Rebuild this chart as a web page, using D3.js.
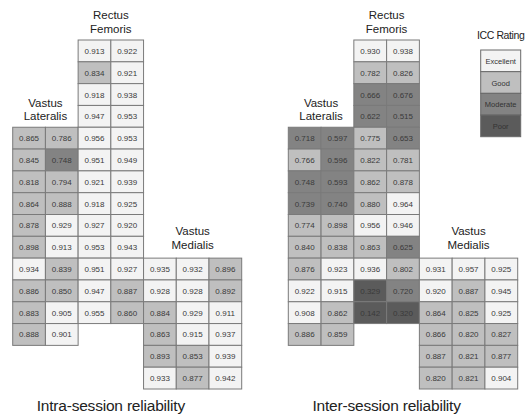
<!DOCTYPE html>
<html><head><meta charset="utf-8">
<script src="https://cdn.jsdelivr.net/npm/d3@7"></script>
<style>body{margin:0;background:#fff}svg{display:block}</style>
</head><body>
<svg id="c" width="529" height="414"></svg>
<script>
// ICC values, rows top to bottom
const intraRF = [[0.913,0.922],[0.834,0.921],[0.918,0.938],[0.947,0.953],[0.956,0.953],[0.951,0.949],[0.921,0.939],[0.918,0.925],[0.927,0.920],[0.953,0.943],[0.951,0.927],[0.947,0.887],[0.955,0.860]];
const intraVL = [[0.865,0.786],[0.845,0.748],[0.818,0.794],[0.864,0.888],[0.878,0.929],[0.898,0.913],[0.934,0.839],[0.886,0.850],[0.883,0.905],[0.888,0.901]];
const intraVM = [[0.935,0.932,0.896],[0.928,0.928,0.892],[0.884,0.929,0.911],[0.863,0.915,0.937],[0.893,0.853,0.939],[0.933,0.877,0.942]];
const interRF = [[0.930,0.938],[0.782,0.826],[0.666,0.676],[0.622,0.515],[0.775,0.653],[0.822,0.781],[0.862,0.878],[0.880,0.964],[0.956,0.946],[0.863,0.625],[0.936,0.802],[0.329,0.720],[0.142,0.320]];
const interVL = [[0.718,0.597],[0.766,0.596],[0.748,0.593],[0.739,0.740],[0.774,0.898],[0.840,0.838],[0.876,0.923],[0.922,0.915],[0.908,0.862],[0.886,0.859]];
const interVM = [[0.931,0.957,0.925],[0.920,0.887,0.945],[0.864,0.825,0.925],[0.866,0.820,0.827],[0.887,0.821,0.877],[0.820,0.821,0.904]];
const ratings = ["Excellent","Good","Moderate","Poor"];
const ratingThresholds = [0.5,0.75,0.9];
const ratingColors = ["#f3f3f3","#bfbfbf","#838383","#5b5b5b"];
const titles = ["Intra-session reliability","Inter-session reliability"];

const svg = d3.select("#c");
const color = d3.scaleThreshold().domain(ratingThresholds).range(ratingColors.slice().reverse());
const y = d3.scaleBand().domain(d3.range(16)).range([40,389]).padding(0);
const FONT = "Liberation Sans, Arial, sans-serif";

const panels = [
  {x0:12.7, x1:241.7, RF:intraRF, VL:intraVL, VM:intraVM, title:titles[0]},
  {x0:288.3, x1:517.7, RF:interRF, VL:interVL, VM:interVM, title:titles[1]}
];

panels.forEach(p => {
  const x = d3.scaleBand().domain(d3.range(7)).range([p.x0,p.x1]).padding(0);
  const g = svg.append("g");
  const cells = [];
  const add = (arr, col0, row0) => arr.forEach((r,i)=>r.forEach((v,j)=>cells.push({v, c:col0+j, r:row0+i})));
  add(p.VL,0,4); add(p.RF,2,0); add(p.VM,4,10);
  const cg = g.selectAll("g.cell").data(cells).join("g");
  cg.append("rect")
    .attr("x",d=>x(d.c)).attr("y",d=>y(d.r))
    .attr("width",x.bandwidth()).attr("height",y.bandwidth())
    .attr("fill",d=>color(d.v)).attr("stroke","#7a7a7a").attr("stroke-width",1);
  cg.append("text")
    .attr("x",d=>x(d.c)+x.bandwidth()/2).attr("y",d=>y(d.r)+y.bandwidth()/2+3)
    .attr("text-anchor","middle").attr("font-family",FONT)
    .attr("font-size","8px").attr("fill","#3a3a3a").text(d=>d3.format(".3f")(d.v));
  const lab = (lines, cx, yb) => lines.forEach((t,i)=>g.append("text").attr("x",cx).attr("y",yb+i*13.6)
    .attr("text-anchor","middle").attr("font-family",FONT)
    .attr("font-size","11.5px").attr("fill","#222").text(t));
  lab(["Rectus","Femoris"], x(3), 19.3);
  lab(["Vastus","Lateralis"], x(1), 106.5);
  lab(["Vastus","Medialis"], x(5)+x.bandwidth()/2, 235.3);
  g.append("text").attr("x",x(3)).attr("y",410.5).attr("text-anchor","middle")
    .attr("font-family",FONT).attr("font-size","15.5px")
    .attr("fill","#222").attr("letter-spacing","-0.2px").text(p.title);
});

// legend
const ly = d3.scaleBand().domain(ratings).range([50,136.7]);
const lg = svg.append("g");
lg.append("text").attr("x",500.7).attr("y",39).attr("text-anchor","middle")
  .attr("font-family",FONT).attr("font-size","10.5px").attr("fill","#222")
  .attr("letter-spacing","-0.4px").text("ICC Rating");
lg.selectAll("rect").data(ratings).join("rect")
  .attr("x",480.7).attr("y",d=>ly(d)).attr("width",40).attr("height",ly.bandwidth())
  .attr("fill",(d,i)=>ratingColors[i]).attr("stroke","#6a6a6a");
lg.selectAll("text.l").data(ratings).join("text").attr("class","l")
  .attr("x",500.7).attr("y",d=>ly(d)+ly.bandwidth()/2+3).attr("text-anchor","middle")
  .attr("font-family",FONT).attr("font-size","7.5px").attr("fill","#333")
  .text(d=>d);
</script>
</body></html>
